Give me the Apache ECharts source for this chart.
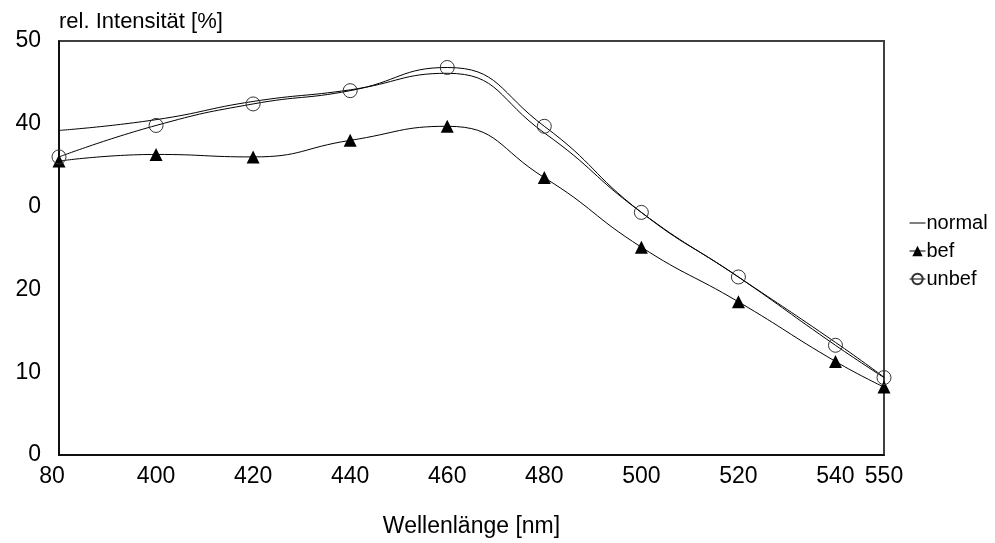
<!DOCTYPE html>
<html>
<head>
<meta charset="utf-8">
<script src="https://cdn.jsdelivr.net/npm/echarts@6/dist/echarts.min.js"></script>
<style>html,body{margin:0;padding:0;background:#fff}#c{width:995px;height:543px}</style>
</head>
<body>
<div id="c"></div>
<script>
const wavelengths = [380, 400, 420, 440, 460, 480, 500, 520, 540, 550];
const normal = [39.2, 40.5, 42.7, 44.1, 46.1, 38.9, 29.3, 21.5, 13.6, 9.4];
const bef    = [35.5, 36.3, 36.0, 38.0, 39.7, 33.5, 25.1, 18.5, 11.3, 8.2];
const unbef  = [36.0, 39.8, 42.4, 44.0, 46.8, 39.7, 29.3, 21.5, 13.25, 9.35];
const seriesNames = ['normal', 'bef', 'unbef'];
const xTickValues = [380, 400, 420, 440, 460, 480, 500, 520, 540, 550];
const xTickLabels = ['80', '400', '420', '440', '460', '480', '500', '520', '540', '550'];
const yTickValues = [0, 10, 20, 30, 40, 50];
const yTickLabels = ['0', '10', '20', '0', '40', '50'];

const FONT = 'Liberation Sans, Arial, sans-serif';
const pairs = arr => wavelengths.map((w, i) => [w, arr[i]]);

const chart = echarts.init(document.getElementById('c'), null, {renderer: 'canvas'});
chart.setOption({
  animation: false,
  backgroundColor: '#fff',
  textStyle: {fontFamily: FONT, color: '#000'},
  grid: {left: 59, right: 111, top: 41, bottom: 87, show: true, borderColor: '#404040', borderWidth: 2, backgroundColor: 'transparent'},
  legend: {
    orient: 'vertical', left: 904, top: 208,
    itemWidth: 16, itemHeight: 13, itemGap: 8,
    lineStyle: {width: 1, color: '#000'},
    textStyle: {fontFamily: FONT, fontSize: 20, color: '#000', padding: [0, 0, 0, -4]},
    data: [
      {name: seriesNames[0], itemStyle: {opacity: 0}},
      {name: seriesNames[1]},
      {name: seriesNames[2]}
    ]
  },
  xAxis: {
    type: 'value', min: 380, max: 550, interval: 10,
    name: 'Wellenlänge [nm]', nameLocation: 'middle', nameGap: 60,
    nameTextStyle: {fontFamily: FONT, fontSize: 23, color: '#000'},
    axisLine: {show: true, lineStyle: {color: '#000', width: 1.5}},
    axisTick: {show: false},
    splitLine: {show: false},
    axisLabel: {
      margin: 10, fontFamily: FONT, fontSize: 23, color: '#000',
      formatter: v => {
        const i = xTickValues.indexOf(v);
        if (i < 0) return '';
        return i === 0 ? '{a|' + xTickLabels[i] + '}' : xTickLabels[i];
      },
      rich: {a: {fontFamily: FONT, fontSize: 23, color: '#000', padding: [0, 14, 0, 0]}}
    }
  },
  yAxis: {
    type: 'value', min: 0, max: 50, interval: 10,
    name: 'rel. Intensität [%]', nameLocation: 'end', nameGap: 8,
    nameTextStyle: {fontFamily: FONT, fontSize: 22, color: '#000', align: 'left', verticalAlign: 'bottom'},
    axisLine: {show: true, lineStyle: {color: '#000', width: 1.5}},
    axisTick: {show: false},
    splitLine: {show: false},
    axisLabel: {
      margin: 18, fontFamily: FONT, fontSize: 23, color: '#000',
      formatter: v => { const i = yTickValues.indexOf(v); return i < 0 ? '' : yTickLabels[i]; }
    }
  },
  series: [
    {name: seriesNames[0], type: 'line', data: pairs(normal), smooth: 0.5, symbol: 'circle', symbolSize: 1, showSymbol: false,
     lineStyle: {color: '#000', width: 1}, itemStyle: {color: '#000'}},
    {name: seriesNames[1], type: 'line', data: pairs(bef), smooth: 0.5, symbol: 'triangle', symbolSize: 13,
     lineStyle: {color: '#000', width: 1}, itemStyle: {color: '#000'}},
    {name: seriesNames[2], type: 'line', data: pairs(unbef), smooth: 0.5, symbol: 'circle', symbolSize: 14,
     lineStyle: {color: '#000', width: 1}, itemStyle: {color: 'rgba(255,255,255,0)', borderColor: '#333', borderWidth: 1}}
  ]
});
</script>
</body>
</html>
